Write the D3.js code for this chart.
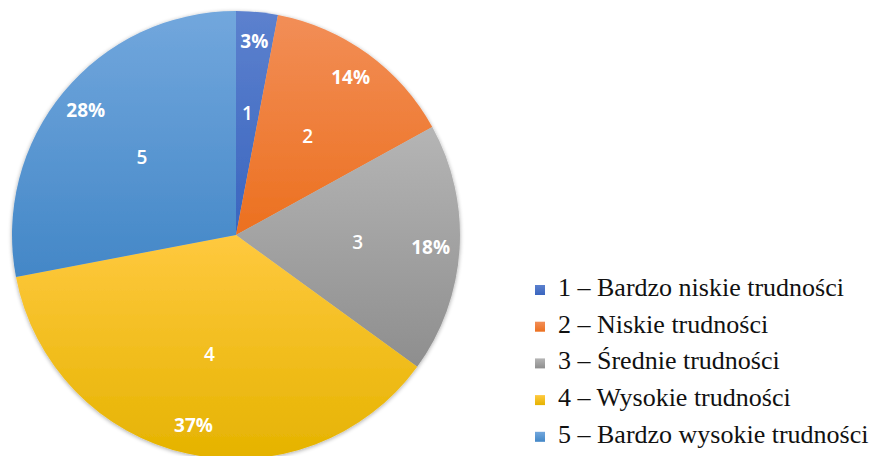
<!DOCTYPE html>
<html>
<head>
<meta charset="utf-8">
<script src="https://cdn.jsdelivr.net/npm/d3@7"></script>
<style>
  body { margin: 0; background: #fff; }
</style>
</head>
<body>
<div id="chart"></div>
<script>
// data
var categories = ["1", "2", "3", "4", "5"];
var values = [3, 14, 18, 37, 28];
var legendLabels = [
  "1 – Bardzo niskie trudności",
  "2 – Niskie trudności",
  "3 – Średnie trudności",
  "4 – Wysokie trudności",
  "5 – Bardzo wysokie trudności"
];
var topColors = ["#5c81ce", "#f28e57", "#b5b5b5", "#ffc93f", "#72a7dd"];
var bottomColors = ["#3a65bf", "#ec701f", "#8e8e8e", "#e5b300", "#4387c7"];

var width = 869, height = 456;
var cx = 236, cy = 235, radius = 224;

var svg = d3.select("#chart")
  .append("svg")
    .attr("width", width)
    .attr("height", height);

var defs = svg.append("defs");

// gradients, light at top -> dark at bottom
categories.forEach(function(c, i) {
  var g = defs.append("linearGradient")
      .attr("id", "grad" + i)
      .attr("x1", 0).attr("y1", 0)
      .attr("x2", 0).attr("y2", 1);
  g.append("stop").attr("offset", "0%").attr("stop-color", topColors[i]);
  g.append("stop").attr("offset", "100%").attr("stop-color", bottomColors[i]);
});

var shadow = defs.append("filter")
    .attr("id", "shadow")
    .attr("x", "-10%").attr("y", "-10%")
    .attr("width", "120%").attr("height", "120%");
shadow.append("feGaussianBlur").attr("in", "SourceAlpha").attr("stdDeviation", 2);
shadow.append("feOffset").attr("dx", 0).attr("dy", 1).attr("result", "blur");
shadow.append("feComponentTransfer").append("feFuncA").attr("type", "linear").attr("slope", 0.35);
var merge = shadow.append("feMerge");
merge.append("feMergeNode");
merge.append("feMergeNode").attr("in", "SourceGraphic");

var pie = d3.pie().sort(null).value(function(d) { return d; });
var arcs = pie(values);
var total = d3.sum(values);

var arc = d3.arc().innerRadius(0).outerRadius(radius);
var pctArc = d3.arc().innerRadius(195).outerRadius(195);
var numArc = d3.arc().innerRadius(122).outerRadius(122);

var g = svg.append("g")
    .attr("transform", "translate(" + cx + "," + cy + ")");

g.append("g")
    .attr("filter", "url(#shadow)")
  .selectAll("path")
  .data(arcs)
  .enter()
  .append("path")
    .attr("d", arc)
    .attr("fill", function(d, i) { return "url(#grad" + i + ")"; });

// percentage labels
g.selectAll(".pct")
  .data(arcs)
  .enter()
  .append("text")
    .attr("class", "pct")
    .attr("transform", function(d) { return "translate(" + pctArc.centroid(d) + ")"; })
    .attr("text-anchor", "middle")
    .attr("dy", "0.35em")
    .style("font-family", "'Open Sans', 'Liberation Sans', sans-serif")
    .style("font-weight", "bold")
    .style("font-size", "19px")
    .style("fill", "#fff")
    .text(function(d) { return Math.round(d.value / total * 100) + "%"; });

// category labels
g.selectAll(".num")
  .data(arcs)
  .enter()
  .append("text")
    .attr("class", "num")
    .attr("transform", function(d, i) { return "translate(" + numArc.centroid(d) + ")"; })
    .attr("text-anchor", "middle")
    .attr("dy", "0.35em")
    .style("font-family", "'Open Sans', 'Liberation Sans', sans-serif")
    .style("font-weight", 600)
    .style("font-size", "19px")
    .style("fill", "#fff")
    .text(function(d, i) { return categories[i]; });

// legend
var legend = svg.append("g")
    .attr("transform", "translate(535,290)");

var row = legend.selectAll(".row")
  .data(legendLabels)
  .enter()
  .append("g")
    .attr("class", "row")
    .attr("transform", function(d, i) { return "translate(0," + i * 36.7 + ")"; });

row.append("rect")
    .attr("x", 0).attr("y", -5)
    .attr("width", 10).attr("height", 10)
    .attr("fill", function(d, i) { return "url(#grad" + i + ")"; });

row.append("text")
    .attr("x", 23)
    .attr("dy", 6)
    .style("font-family", "'Liberation Serif', 'Times New Roman', serif")
    .style("font-size", "26px")
    .style("fill", "#111")
    .text(function(d) { return d; });
</script>
</body>
</html>
